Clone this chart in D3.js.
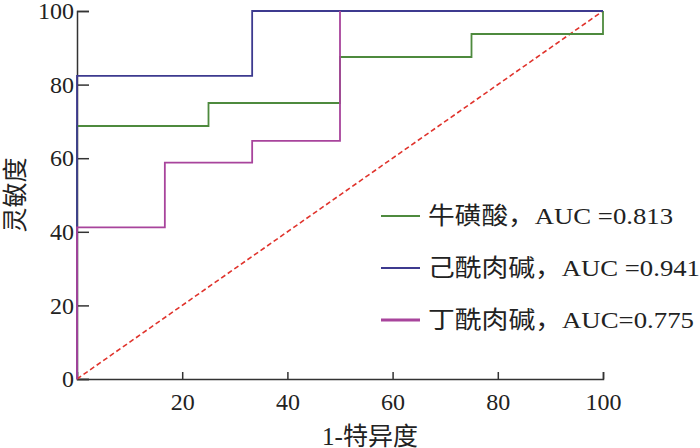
<!DOCTYPE html><html><head><meta charset="utf-8"><script src="https://cdn.jsdelivr.net/npm/d3@7"></script>
<style>body{margin:0;background:#fff}text{font-family:"Liberation Serif","Noto Sans CJK SC",serif;fill:#222}</style></head><body>
<svg id="c" width="700" height="448"></svg>
<script>
const xTicks=[20,40,60,80,100], yTicks=[0,20,40,60,80,100];
const taurineX=[0,0,25,25,50,50,75,75,100,100], taurineY=[0,68.75,68.75,75,75,87.5,87.5,93.75,93.75,100];
const hexX=[0,0,33.3,33.3,100], hexY=[0,82.35,82.35,100,100];
const butX=[0,0,16.7,16.7,33.3,33.3,50,50], butY=[0,41.2,41.2,58.8,58.8,64.7,64.7,100];
const names=["牛磺酸，AUC =0.813","己酰肉碱，AUC =0.941","丁酰肉碱，AUC=0.775"];
const colors=["#4e8a3e","#3d3a8f","#a8449c"];
const svg=d3.select("#c");
const x=d3.scaleLinear().domain([0,100]).range([77,603]);
const y=d3.scaleLinear().domain([0,100]).range([379,11]);
svg.append("g").attr("transform","translate(0,379)").call(d3.axisBottom(x).tickValues(xTicks).tickSize(-7).tickPadding(14))
 .call(g=>{g.select(".domain").attr("stroke","#333").attr("stroke-width",1.5);g.selectAll("line").attr("stroke","#333").attr("stroke-width",1.5);g.selectAll("text").style("font-size","24px")});
svg.append("g").attr("transform","translate(77,0)").call(d3.axisLeft(y).tickValues(yTicks).tickSize(-12).tickPadding(3))
 .call(g=>{g.select(".domain").attr("stroke","#333").attr("stroke-width",1.5);g.selectAll("line").attr("stroke","#333").attr("stroke-width",1.5);g.selectAll("text").style("font-size","24px")});
svg.append("line").attr("x1",x(0)).attr("y1",y(0)).attr("x2",x(100)).attr("y2",y(100)).attr("stroke","#e0332c").attr("stroke-width",1.6).attr("stroke-dasharray","5,3");
const line=d3.line().x(d=>x(d[0])).y(d=>y(d[1]));
[[taurineX,taurineY],[hexX,hexY],[butX,butY]].forEach((s,i)=>{
 svg.append("path").attr("d",line(s[0].map((v,j)=>[v,s[1][j]]))).attr("fill","none").attr("stroke",colors[i]).attr("stroke-width",1.8);
});
names.forEach((n,i)=>{
 const yy=216+i*52;
 svg.append("line").attr("x1",381).attr("x2",420).attr("y1",yy).attr("y2",yy).attr("stroke",colors[i]).attr("stroke-width",i==2?3:2);
 svg.append("text").attr("x",428).attr("y",yy+8).style("font-size","24px").attr("textLength",i==0?245:(i==1?272:266)).attr("lengthAdjust","spacingAndGlyphs").text(n);
});
svg.append("text").attr("x",370).attr("y",445).attr("text-anchor","middle").style("font-size","25px").text("1-特异度");
svg.append("text").attr("transform","translate(24,195) rotate(-90)").attr("text-anchor","middle").style("font-size","25px").text("灵敏度");
</script></body></html>
